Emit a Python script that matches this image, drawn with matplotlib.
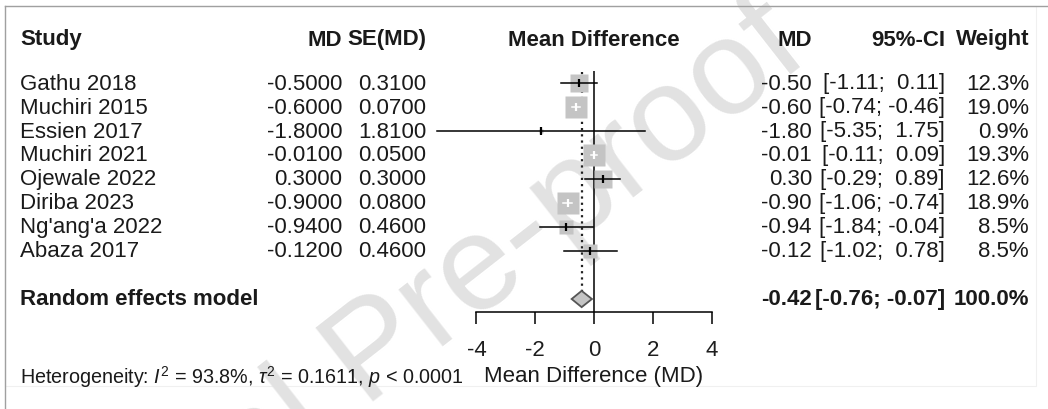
import numpy as np
import matplotlib
matplotlib.use("Agg")
import matplotlib.pyplot as plt
from matplotlib.transforms import blended_transform_factory
from matplotlib.patches import Polygon, Rectangle

plt.rcParams['font.family'] = ['Liberation Sans', 'DejaVu Sans']
plt.rcParams['mathtext.fontset'] = 'custom'
plt.rcParams['mathtext.rm'] = 'Liberation Sans'
plt.rcParams['mathtext.it'] = 'Liberation Sans:italic'
plt.rcParams['axes.unicode_minus'] = False

# data
studies = ["Gathu 2018", "Muchiri 2015", "Essien 2017", "Muchiri 2021",
           "Ojewale 2022", "Diriba 2023", "Ng'ang'a 2022", "Abaza 2017"]
md = [-0.50, -0.60, -1.80, -0.01, 0.30, -0.90, -0.94, -0.12]
se = [0.31, 0.07, 1.81, 0.05, 0.30, 0.08, 0.46, 0.46]
ci_lo = [-1.11, -0.74, -5.35, -0.11, -0.29, -1.06, -1.84, -1.02]
ci_hi = [0.11, -0.46, 1.75, 0.09, 0.89, -0.74, -0.04, 0.78]
weight = [12.3, 19.0, 0.9, 19.3, 12.6, 18.9, 8.5, 8.5]

pooled_md = -0.42
pooled_lo = -0.76
pooled_hi = -0.07
xticks = [-4, -2, 0, 2, 4]

W, H = 1048, 410
PX = 29.4       # pixels per MD unit
X0 = 594        # pixel of MD = 0
ROW0, ROWH = 84, 24
AXIS_Y = 313

def row(ypx):
    return (ypx - ROW0) / ROWH

fig = plt.figure(figsize=(W / 100, H / 100), dpi=100)
ax = fig.add_axes([0, (H - AXIS_Y) / H, 1, AXIS_Y / H])
ax.set_facecolor('none')
ax.set_xlim(-X0 / PX, (W - X0) / PX)
ax.set_ylim(row(AXIS_Y), row(0))

for s in ['top', 'right', 'left']:
    ax.spines[s].set_visible(False)
ax.spines['bottom'].set_bounds(-4, 4)
ax.spines['bottom'].set_linewidth(1.1)
ax.set_yticks([])
ax.set_xticks(xticks)
ax.set_xticklabels([str(t) for t in xticks])
ax.tick_params(axis='x', direction='out', length=8.5, width=1.1,
               pad=11, labelsize=16, labelcolor='#1e1e1e')

tc = '#1a1a1a'
fs = 16
sq_col = '#c4c4c4'

y_rows = np.arange(len(studies))
y_pool = row(300)

# reference lines
ax.vlines(0, row(72), row(AXIS_Y), color='black', lw=1.1, zorder=1)
dh = 0.34
ax.plot([pooled_md, pooled_md], [row(73), y_pool - dh], color='#222222',
        lw=1.6, linestyle=(0, (1, 1.8)), zorder=1)

# studies
for i in range(len(studies)):
    side = 5.05 * np.sqrt(weight[i])
    ax.plot(md[i], y_rows[i], marker='s', ms=side * 0.72, color=sq_col,
            mec='none', zorder=2)
    inside = (ci_hi[i] - ci_lo[i]) * PX < side
    lc = 'white' if inside else 'black'
    ax.plot([ci_lo[i], ci_hi[i]], [y_rows[i], y_rows[i]], color=lc,
            lw=1.1, zorder=3, clip_on=False)
    ax.plot(md[i], y_rows[i], marker='|', ms=5.5, mew=1.6, color=lc, zorder=3)

# pooled diamond
dia = Polygon([[pooled_lo, y_pool], [pooled_md, y_pool - dh],
               [pooled_hi, y_pool], [pooled_md, y_pool + dh]],
              closed=True, facecolor=sq_col, edgecolor='#555555', lw=1.3, zorder=3)
ax.add_patch(dia)

# text columns
tr = blended_transform_factory(fig.transFigure, ax.transData)
y_head = row(40)

def col(xpx, y, s, ha='right', bold=False, size=fs):
    ax.text(xpx / W, y, s, transform=tr, ha=ha, va='center', fontsize=size,
            color=tc, fontweight='bold' if bold else 'normal', zorder=4)

col(20, y_head, "Study", ha='left', bold=True)
col(342, y_head, "MD", bold=True)
col(426, y_head, "SE(MD)", bold=True)
ax.text(0, y_head, "Mean Difference", ha='center', va='center', fontsize=fs,
        fontweight='bold', color=tc, zorder=4)
col(812, y_head, "MD", bold=True)
col(945, y_head, "95%-CI", bold=True)
col(1029, y_head, "Weight", bold=True)

for i in range(len(studies)):
    y = y_rows[i]
    col(20, y, studies[i], ha='left')
    col(342, y, f"{md[i]:.4f}")
    col(426, y, f"{se[i]:.4f}")
    col(812, y, f"{md[i]:.2f}")
    col(945, y, f"[{ci_lo[i]:5.2f}; {ci_hi[i]:5.2f}]")
    col(1029, y, f"{weight[i]:.1f}%")

col(20, y_pool, "Random effects model", ha='left', bold=True)
col(812, y_pool, f"{pooled_md:.2f}", bold=True)
col(945, y_pool, f"[{pooled_lo:5.2f}; {pooled_hi:5.2f}]", bold=True)
col(1029, y_pool, f"{sum(weight):.1f}%", bold=True)

col(20, row(377),
    r"Heterogeneity: $\mathit{I}^2$ = 93.8%, $\tau^2$ = 0.1611, $\mathit{p}$ < 0.0001",
    ha='left', size=14.2)
ax.text(0, row(377), "Mean Difference (MD)", ha='center', va='center',
        fontsize=fs, color=tc, zorder=4, clip_on=False)

# frame
fig.patches.append(Rectangle((5 / W, 23 / H), (1036 - 5) / W, (H - 7 - 23) / H,
                             transform=fig.transFigure, fill=False,
                             edgecolor='#f0f0f0', lw=0.8, zorder=-2))
fig.add_artist(plt.Line2D([5 / W, 1], [1 - 7 / H, 1 - 7 / H],
                          transform=fig.transFigure, color='#a0a0a0', lw=1.0))
fig.add_artist(plt.Line2D([5 / W, 5 / W], [0, 1 - 7 / H],
                          transform=fig.transFigure, color='#a0a0a0', lw=1.0))

# watermark
fig.text(812 / W, 1 - 58 / H, "Journal Pre-proof", ha='right', va='baseline',
         rotation=38, rotation_mode='anchor', fontsize=98, color='#e2e2e2',
         zorder=-1)

fig.savefig("out.png", dpi=100)
